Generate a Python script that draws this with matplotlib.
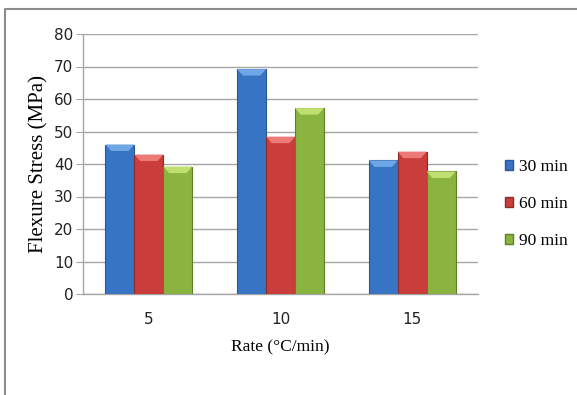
import matplotlib
matplotlib.use("Agg")
import matplotlib.pyplot as plt
import numpy as np
from matplotlib.patches import Patch, Polygon
from matplotlib.lines import Line2D
from matplotlib import font_manager

categories = ["5", "10", "15"]
series_names = ["30 min", "60 min", "90 min"]
v30 = [46, 69.2, 41.1]
v60 = [42.9, 48.4, 43.8]
v90 = [39.2, 57.2, 37.7]
yticks = [0, 10, 20, 30, 40, 50, 60, 70, 80]

colors = ["#3874c4", "#c93d3b", "#8ab43f"]
tops = ["#6fa6e6", "#ee7a78", "#bfe071"]
edges = ["#2a5796", "#8e2a29", "#5f7f2a"]

available = {f.name for f in font_manager.fontManager.ttflist}
tickfam = next((f for f in ["Liberation Sans Narrow", "DejaVu Sans Condensed", "DejaVu Sans"]
                if f in available), "DejaVu Sans")
ticksize = 13 if tickfam == "Liberation Sans Narrow" else 11

fig = plt.figure(figsize=(5.77, 3.95), dpi=100)
ax = fig.add_axes([83/577, 1-294/395, (478-83)/577, (294-34)/395])

x = np.arange(len(categories)) + 0.5
w = 0.22
for i, vals in enumerate([v30, v60, v90]):
    bars = ax.bar(x + (i-1)*w, vals, width=w, color=colors[i], edgecolor=edges[i],
                  linewidth=0.8, label=series_names[i], zorder=3)
    for b in bars:
        x0, bw, h = b.get_x(), b.get_width(), b.get_height()
        ins = bw * 0.2
        dh = 2.0
        ax.add_patch(Polygon([(x0, h), (x0 + bw, h), (x0 + bw - ins, h - dh), (x0 + ins, h - dh)],
                             closed=True, facecolor=tops[i], edgecolor="none", zorder=4))

ax.set_xlim(0, 3)
ax.set_ylim(0, 80)
ax.set_yticks(yticks)
ax.set_xticks(x)
ax.set_xticklabels(categories)
ax.yaxis.grid(True, color="#a6a6a6", linewidth=1.0, zorder=0)
ax.set_axisbelow(True)
for s in ["top", "right"]:
    ax.spines[s].set_visible(False)
for s in ["left", "bottom"]:
    ax.spines[s].set_color("#a6a6a6")
    ax.spines[s].set_linewidth(1.0)
ax.tick_params(axis="y", length=5, color="#a6a6a6", pad=2)
ax.tick_params(axis="x", length=0, pad=13)
for lab in ax.get_yticklabels() + ax.get_xticklabels():
    lab.set_family(tickfam)
    lab.set_fontsize(ticksize)
    lab.set_color("#222222")

ax.set_xlabel("Rate (°C/min)", family="Liberation Serif", fontsize=12.5, labelpad=9)
ax.set_ylabel("Flexure Stress (MPa)", family="Liberation Serif", fontsize=15, labelpad=4)

handles = [Patch(facecolor=colors[i], edgecolor=edges[i], label=series_names[i]) for i in range(3)]
fig.legend(handles=handles, loc="center left", bbox_to_anchor=(489/577, 1-204/395),
           frameon=False, prop={"family": "Liberation Serif", "size": 12.5},
           handlelength=0.5, handleheight=0.5, handletextpad=0.35, labelspacing=1.2)

# outer chart frame (top and left edges visible)
fig.add_artist(Line2D([5/577, 5/577, 1.01], [-0.01, 1-9/395, 1-9/395],
                      transform=fig.transFigure, color="#8c8c8c", linewidth=1.5))

fig.savefig("out.png", dpi=100)
